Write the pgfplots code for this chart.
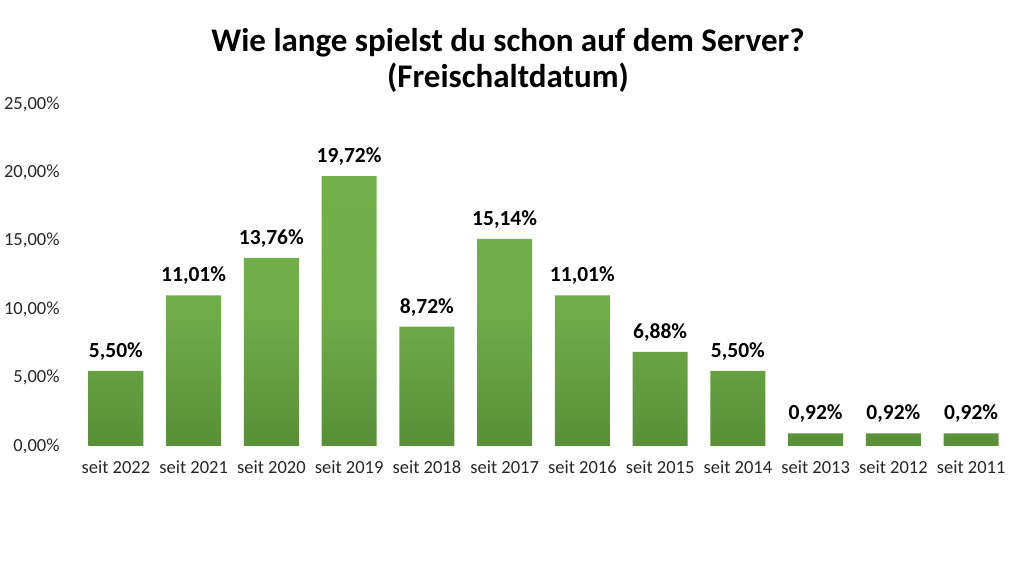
\documentclass[border=0pt]{standalone}
\usepackage{pgfplots}
\pgfplotsset{compat=1.18}
\usepackage{fontspec}
\setmainfont{Carlito}
\definecolor{gtop}{RGB}{114,176,74}
\definecolor{gbot}{RGB}{88,143,56}
\begin{document}
\begin{tikzpicture}[x=1pt,y=1pt]
\path (0,0) rectangle (1016,567);
\node[align=center,font=\fontsize{33}{36}\selectfont\bfseries] at (508,507) {Wie lange spielst du schon auf dem Server?\\(Freischaltdatum)};
\begin{axis}[
  at={(77pt,121pt)}, anchor=south west,
  scale only axis, width=933pt, height=342pt,
  xmin=-0.5, xmax=11.5, ymin=0, ymax=25,
  axis line style={draw=none},
  tick style={draw=none},
  ytick={0,5,10,15,20,25},
  yticklabels={{0,00\%},{5,00\%},{10,00\%},{15,00\%},{20,00\%},{25,00\%}},
  xtick={0,...,11},
  xticklabels={seit 2022,seit 2021,seit 2020,seit 2019,seit 2018,seit 2017,seit 2016,seit 2015,seit 2014,seit 2013,seit 2012,seit 2011},
  ticklabel style={font=\fontsize{18.5}{21}\selectfont, text=black!85},
  yticklabel style={xshift=-14pt},
  xticklabel style={yshift=-7pt},
  /pgf/number format/assume math mode=true,
  ybar, bar width=55pt,
  nodes near coords={\pgfmathprintnumber[fixed,fixed zerofill,precision=2,use comma]{\pgfplotspointmeta}\%},
  every node near coord/.append style={font=\fontsize{21.5}{24}\selectfont\bfseries, text=black, yshift=7pt},
]
\addplot[draw=none, top color=gtop, bottom color=gbot, middle color=gtop!92!gbot] coordinates {
(0,5.50) (1,11.01) (2,13.76) (3,19.72) (4,8.72) (5,15.14) (6,11.01) (7,6.88) (8,5.50) (9,0.92) (10,0.92) (11,0.92)};
\end{axis}
\end{tikzpicture}
\end{document}
